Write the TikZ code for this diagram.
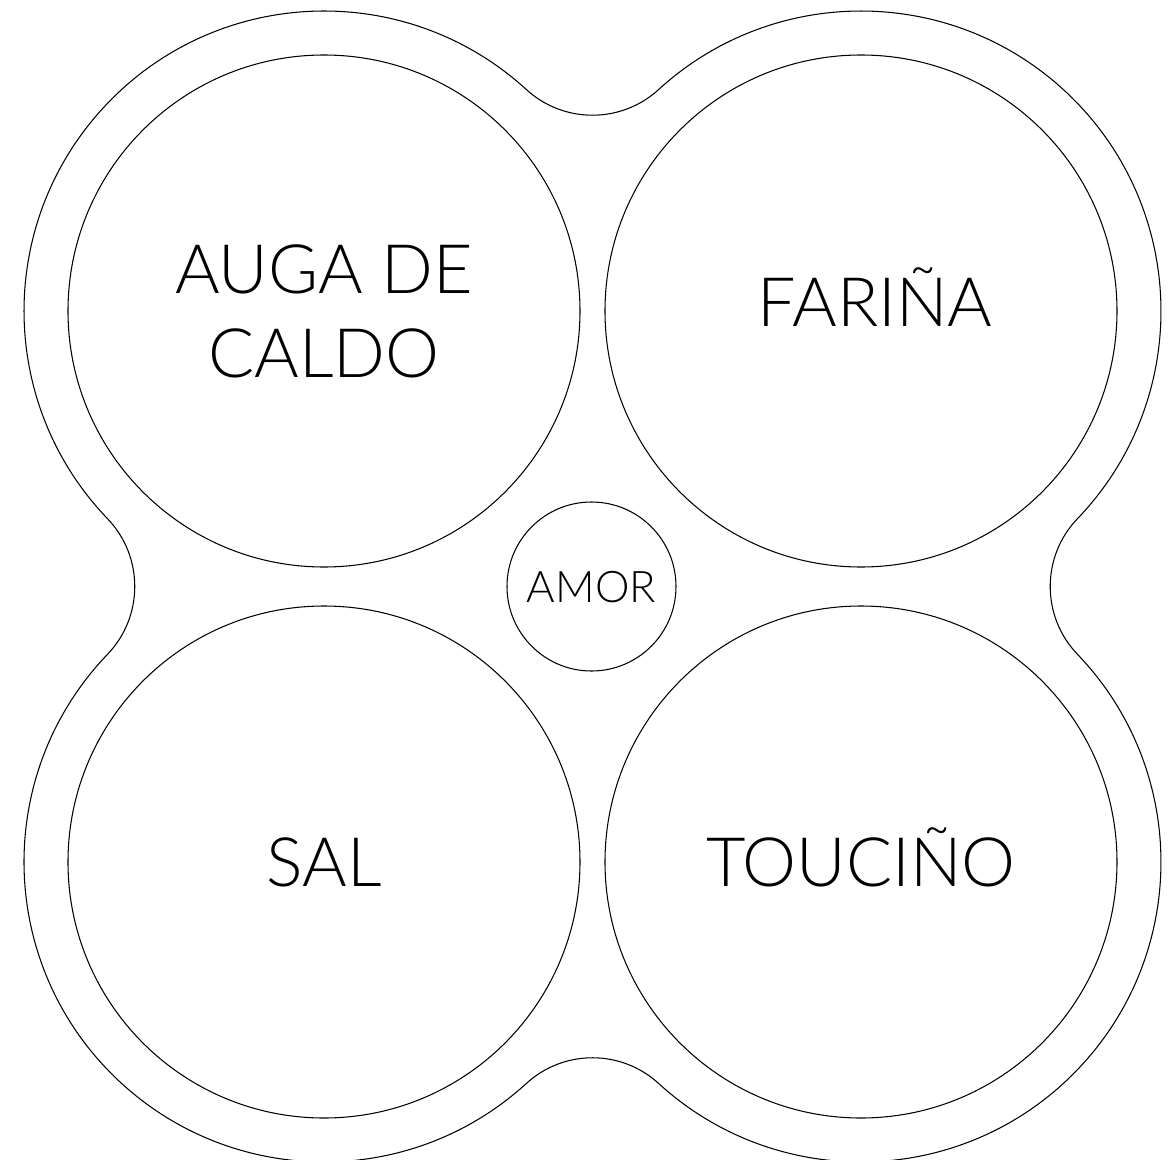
\documentclass[tikz,border=0pt]{standalone}
\usepackage{fontspec}
\IfFontExistsTF{Lato Light}{\setmainfont{Lato Light}}{\setmainfont{TeX Gyre Heros}}
\usetikzlibrary{positioning}

\begin{document}
\begin{tikzpicture}[x=0.1mm,y=0.1mm,line width=0.3pt,
    bowl/.style={circle,draw,inner sep=0pt,minimum size=51.2mm,
                 font=\fontsize{19.4}{23.9}\selectfont},
    oneline/.style={text height=13.9pt,text depth=0pt},
    word/.style={inner sep=0pt,text height=13.9pt,text depth=0pt,
                 font=\fontsize{19.4}{23.9}\selectfont},
    spoon/.style={circle,draw,inner sep=0pt,minimum size=16.9mm,
                  text height=8.9pt,text depth=0pt,
                  font=\fontsize{12.4}{15}\selectfont}]
  \useasboundingbox (-592.5,-572.5) rectangle (581.5,586.5);

  % rim centres and tray outline (outer rims joined by concave fillets)
  \def\hx{268.5} \def\hy{275.5}
  \def\R{300} \def\rf{98}
  \pgfmathsetmacro\dy{100*sqrt(3.98^2-2.685^2)}
  \pgfmathsetmacro\dx{100*sqrt(3.98^2-2.755^2)}
  \pgfmathsetmacro\at{atan2(\dy,\hx)}
  \pgfmathsetmacro\as{atan2(\hy,\dx)}

  \draw (-\hx,\hy) ++(\at:\R)
     arc[start angle=\at, end angle=180+\as, radius=\R]
     arc[start angle=\as, end angle=-\as, radius=\rf]
     arc[start angle=180-\as, end angle=360-\at, radius=\R]
     arc[start angle=180-\at, end angle=\at, radius=\rf]
     arc[start angle=180+\at, end angle=360+\as, radius=\R]
     arc[start angle=180+\as, end angle=180-\as, radius=\rf]
     arc[start angle=-\as, end angle=180-\at, radius=\R]
     arc[start angle=360-\at, end angle=180+\at, radius=\rf]
     -- cycle;

  % the four bowls and the small one in the middle
  \node[bowl,align=center] (caldo) at (-\hx,\hy) {AUGA DE\\CALDO};
  \node[bowl] (farina) at (\hx,\hy) {};
  \node[word] (farinatxt) at ([shift={(14,8.5)}]farina.center) {FARIÑA};
  \node[bowl,oneline] (sal) at (-\hx,-\hy) {SAL};
  \node[bowl,oneline] (toucino) at (\hx,-\hy) {TOUCIÑO};
  \node[spoon] (amor) at (-1,0) {AMOR};
\end{tikzpicture}
\end{document}
